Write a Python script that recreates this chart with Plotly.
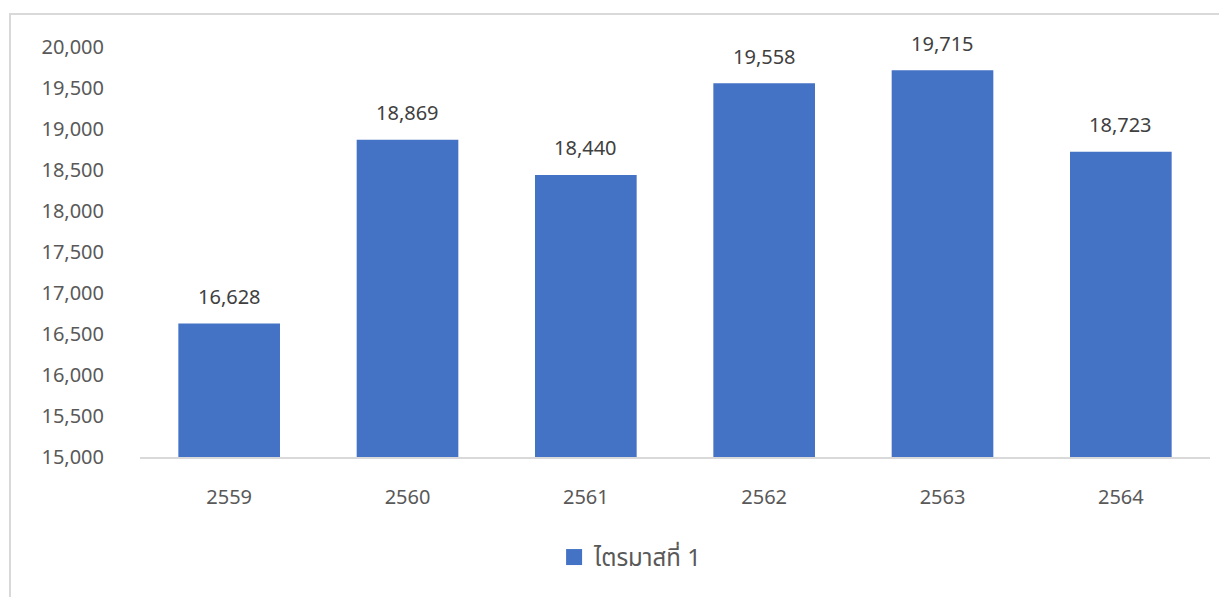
import plotly.graph_objects as go

years = ["2559", "2560", "2561", "2562", "2563", "2564"]
values = [16628, 18869, 18440, 19558, 19715, 18723]
series_name = "ไตรมาสที่ 1"
y_ticks = [15000, 15500, 16000, 16500, 17000, 17500, 18000, 18500, 19000, 19500, 20000]

FONT = "Tahoma, 'Noto Sans', 'Noto Sans Thai', sans-serif"
BLUE = "#4472C4"

fig = go.Figure()
fig.add_trace(go.Bar(
    x=years, y=values, name=series_name,
    marker=dict(color=BLUE, line=dict(width=0)),
    showlegend=False,
))
# legend entry with a larger square symbol
fig.add_trace(go.Scatter(
    x=[years[0]], y=[None], mode="markers", name=series_name,
    marker=dict(symbol="square", size=16, color=BLUE, line=dict(width=0)),
    showlegend=True, hoverinfo="skip",
))

# value labels (category axis: annotation x given as category index)
for i, v in enumerate(values):
    fig.add_annotation(x=i, y=v, xref="x", yref="y", text=f"{v:,}", showarrow=False,
                       yanchor="middle", yshift=27,
                       font=dict(size=20, color="#404040", family=FONT))

fig.update_layout(
    width=1227, height=597,
    margin=dict(l=132, r=25, t=39, b=148),
    paper_bgcolor="white", plot_bgcolor="white",
    font=dict(family=FONT, size=20, color="#595959"),
    bargap=0.43,
    showlegend=True,
    legend=dict(orientation="h", x=0.387, xanchor="left", y=-0.245, yanchor="middle",
                font=dict(size=24, color="#595959"), itemwidth=30,
                bgcolor="rgba(0,0,0,0)"),
    xaxis=dict(type="category", categoryorder="array", categoryarray=years,
               range=[-0.5, len(years) - 0.5],
               showgrid=False, showline=True, linecolor="#d9d9d9",
               linewidth=1.5, ticks="", tickfont=dict(size=20, color="#595959"),
               ticklabelstandoff=21),
    yaxis=dict(range=[15000, 20000], tickvals=y_ticks, tickformat=",",
               showgrid=False, showline=False, zeroline=False, ticks="",
               tickfont=dict(size=20, color="#595959"), ticklabelstandoff=35),
    shapes=[dict(type="rect", xref="paper", yref="paper",
                 x0=-0.1215, x1=1.05, y0=-0.4, y1=1.0805,
                 line=dict(color="#d9d9d9", width=2), fillcolor="rgba(0,0,0,0)",
                 layer="below")],
)

fig.write_html("out.html")
